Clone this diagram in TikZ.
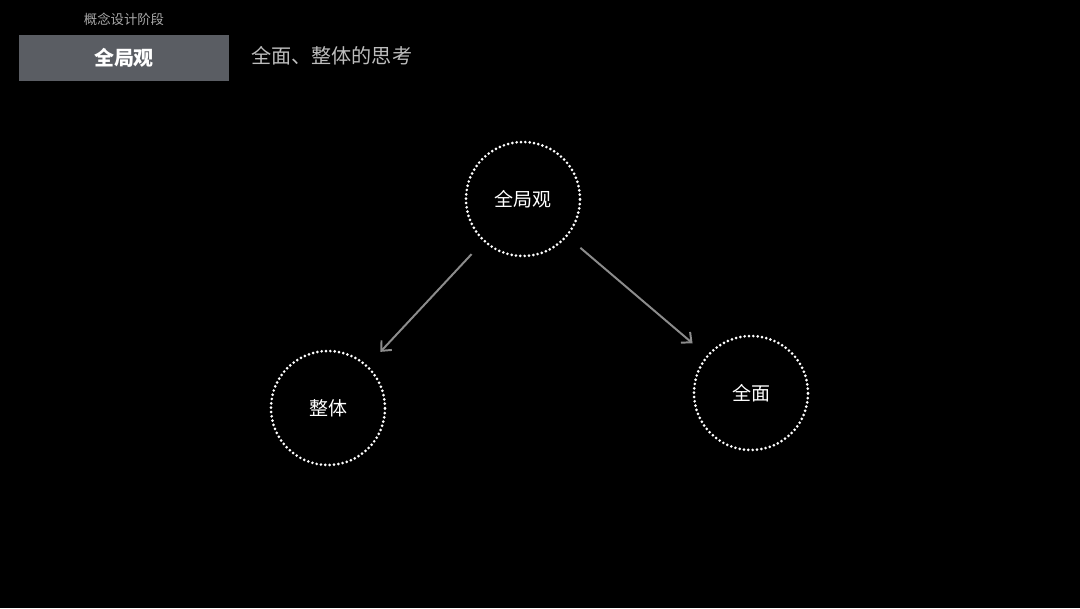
\documentclass[tikz,border=0pt]{standalone}
\usepackage{fontspec}
\setmainfont{Noto Sans CJK SC}
\definecolor{boxgray}{HTML}{5A5D63}
\definecolor{subgray}{HTML}{BDBDBD}
\definecolor{tagray}{HTML}{A8A8A8}
\definecolor{arrowgray}{HTML}{8C8C8C}
\tikzset{
  idea/.style={circle,draw=white,line width=2.1pt,line cap=round,
    dash pattern=on 0pt off 3.1pt,minimum size=2.85cm,inner sep=0pt,
    text=white,font=\fontsize{13.5}{15}\selectfont},
  link/.style={draw=arrowgray,line width=1.4pt,-{Straight Barb[length=5.5pt,width=10pt]},
    shorten <=12pt,shorten >=13pt}
}
\usetikzlibrary{arrows.meta}
\begin{document}
\begin{tikzpicture}[x=0.025cm,y=-0.025cm]
% background
\fill[black] (0,0) rectangle (1080,608);

% header
\node[text=tagray,font=\fontsize{9.5}{11}\selectfont] (stage) at (124,19) {概念设计阶段};
\node[fill=boxgray,minimum width=5.25cm,minimum height=1.15cm,inner sep=0pt,
  text=white,font=\fontsize{14.2}{16}\selectfont\bfseries] (title) at (124,58) {全局观};
\node[anchor=west,inner sep=0pt,text=subgray,font=\fontsize{14.3}{16}\selectfont] (sub) at (251,56) {全面、整体的思考};

% circles
\node[idea] (whole) at (523,199) {全局观};
\node[idea] (entire) at (328,408) {整体};
\node[idea] (full) at (751,393) {全面};

% arrows
\draw[link] (whole) -- (entire);
\draw[link] (whole) -- (full);
\end{tikzpicture}
\end{document}
